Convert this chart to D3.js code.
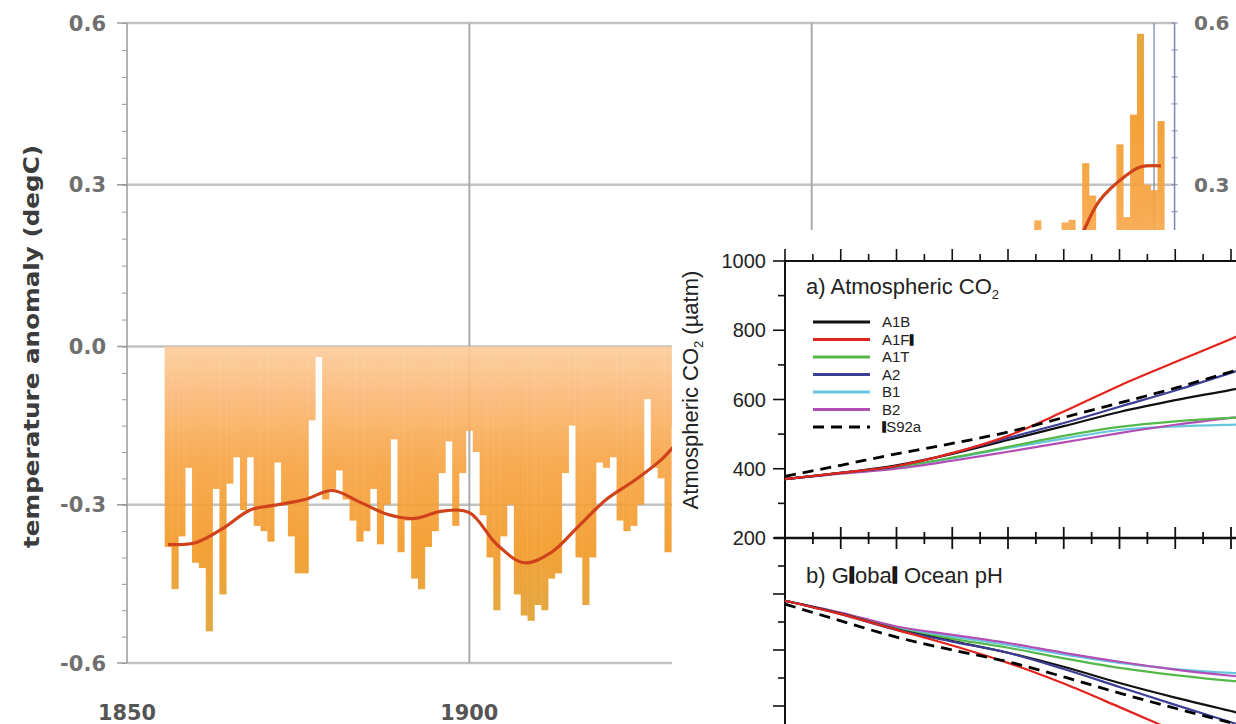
<!DOCTYPE html>
<html><head><meta charset="utf-8">
<script src="https://cdn.jsdelivr.net/npm/d3@7"></script>
<style>body{margin:0;background:#fff;} svg{display:block;}</style>
</head><body>
<svg id="chart" width="1236" height="724"></svg>
<script>
// ---------------- Temperature anomaly data (degC) ----------------
const years = d3.range(1856, 2002);
const anomalies = [
  -0.38,-0.46,-0.36,-0.23,-0.41,-0.42,-0.54,-0.27,-0.47,-0.26,
  -0.21,-0.31,-0.21,-0.34,-0.35,-0.37,-0.22,-0.30,-0.36,-0.43,
  -0.43,-0.14,-0.02,-0.29,-0.27,-0.235,-0.29,-0.33,-0.37,-0.35,
  -0.27,-0.375,-0.30,-0.176,-0.39,-0.33,-0.44,-0.46,-0.38,-0.35,
  -0.24,-0.18,-0.34,-0.24,-0.16,-0.20,-0.32,-0.40,-0.50,-0.36,
  -0.30,-0.47,-0.51,-0.52,-0.49,-0.50,-0.44,-0.43,-0.24,-0.15,
  -0.40,-0.49,-0.40,-0.22,-0.23,-0.21,-0.33,-0.35,-0.34,-0.30,
  -0.10,-0.23,-0.25,-0.39,-0.15,-0.07,-0.11,-0.27,-0.12,-0.18,
  -0.15,-0.02,0.02,-0.03,0.02,0.03,0.01,0.00,0.12,0.01,
  -0.08,-0.06,-0.06,-0.09,-0.18,-0.04,0.00,0.06,-0.16,-0.18,
  -0.27,0.02,0.06,0.03,-0.03,0.05,0.03,0.05,-0.21,-0.13,
  -0.06,-0.04,-0.07,0.06,-0.01,-0.08,-0.01,0.16,-0.08,-0.02,
  -0.11,0.15,0.07,0.14,0.14,0.20,0.05,0.234,0.03,0.03,
  0.11,0.23,0.235,0.15,0.34,0.28,0.12,0.15,0.20,0.375,
  0.24,0.43,0.58,0.30,0.29,0.418
];
const smoothYears = [1856,1860,1864,1868,1872,1876,1880,1884,1888,1892,1896,1900,1904,1908,1912,1916,1920,1924,1928,1932,1936,1940,1944,1948,1952,1956,1960,1964,1968,1972,1976,1980,1984,1988,1992,1996,1998,2001];
const smoothValues = [-0.375,-0.372,-0.345,-0.31,-0.30,-0.29,-0.273,-0.295,-0.318,-0.326,-0.312,-0.315,-0.375,-0.41,-0.39,-0.34,-0.29,-0.255,-0.215,-0.16,-0.12,-0.07,-0.05,-0.06,-0.07,-0.07,-0.06,-0.06,-0.05,-0.02,0.02,0.08,0.13,0.175,0.27,0.318,0.333,0.335];
const tempTicks = [-0.6,-0.3,0,0.3,0.6];
const tempTickLabels = ["-0.6","-0.3","0.0","0.3","0.6"];
const rightTicks = [0.3,0.6];
const rightTickLabels = ["0.3","0.6"];
const yearTicks = [1850,1900];
const yearTickLabels = ["1850","1900"];

// ---------------- Inset: scenarios ----------------
const scenarioYears = [2000,2010,2020,2030,2040,2050,2060,2070,2080,2090];
const scenarioNames = ["A1B","A1FI","A1T","A2","B1","B2","IS92a"];
const scenarioColors = ["#111111","#e3241d","#55b84a","#3b3f96","#66c6de","#b24db6","#000000"];
const co2A1B   = [370,388,410,443,483,523,564,598,628,660];
const co2A1FI  = [370,388,408,445,495,565,640,708,775,845];
const co2A1T   = [370,388,405,432,463,495,521,537,547,553];
const co2A2    = [370,388,407,445,489,532,579,626,677,730];
const co2B1    = [370,387,404,430,460,487,512,522,527,530];
const co2B2    = [370,386,400,423,449,476,503,527,547,565];
const co2IS92a = [378,410,443,473,506,548,590,633,680,725];
const phA1B    = [8.088,8.065,8.037,8.016,7.995,7.970,7.941,7.915,7.891,7.865];
const phA1FI   = [8.088,8.064,8.036,8.008,7.977,7.940,7.898,7.855,7.810,7.765];
const phA1T    = [8.088,8.065,8.038,8.020,8.004,7.985,7.968,7.955,7.945,7.940];
const phA2     = [8.088,8.064,8.036,8.015,7.995,7.966,7.934,7.902,7.871,7.840];
const phB1     = [8.088,8.066,8.040,8.024,8.009,7.992,7.977,7.966,7.959,7.955];
const phB2     = [8.088,8.067,8.042,8.027,8.0125,7.995,7.979,7.965,7.954,7.945];
const phIS92a  = [8.082,8.052,8.023,8.000,7.979,7.952,7.923,7.896,7.870,7.845];
const co2Ticks = [200,400,600,800,1000];
const co2TickLabels = ["200","400","600","800","1000"];

const co2Series = [co2A1B,co2A1FI,co2A1T,co2A2,co2B1,co2B2,co2IS92a];
const phSeries = [phA1B,phA1FI,phA1T,phA2,phB1,phB2,phIS92a];

// ---------------- Main chart ----------------
const svg = d3.select("#chart");
const defs = svg.append("defs");
const xs = d3.scaleLinear().domain([1850, 2003]).range([127, 127 + 153 * 6.847]);
const ys = d3.scaleLinear().domain([-0.6, 0, 0.6]).range([663, 346.5, 23]);

function grad(id, y1, y2) {
  const g = defs.append("linearGradient").attr("id", id)
    .attr("gradientUnits", "userSpaceOnUse")
    .attr("x1", 0).attr("x2", 0).attr("y1", y1).attr("y2", y2);
  [[0, "#fccc9c"], [0.15, "#fbbb7c"], [0.4, "#f7a444"], [0.7, "#f29a28"], [1, "#dda233"]]
    .forEach(([o, c]) => g.append("stop").attr("offset", o).attr("stop-color", c));
}
grad("gneg", ys(0), ys(-0.55));
grad("gpos", ys(0), ys(0.6));

const FONT = "'DejaVu Sans', sans-serif";
const xL = xs(1850), xR = xs(2003);

// grid
const grid = svg.append("g");
tempTicks.forEach(v => grid.append("line")
  .attr("x1", xL).attr("x2", xR).attr("y1", ys(v)).attr("y2", ys(v))
  .attr("stroke", "#c2c2c2").attr("stroke-width", 2.5));
[1900, 1950].forEach(yr => grid.append("line")
  .attr("x1", xs(yr)).attr("x2", xs(yr)).attr("y1", ys(0.6)).attr("y2", ys(-0.6))
  .attr("stroke", "#ababab").attr("stroke-width", 2));
grid.append("line").attr("x1", xs(2000)).attr("x2", xs(2000)).attr("y1", ys(0.6)).attr("y2", ys(-0.6))
  .attr("stroke", "#9097bb").attr("stroke-width", 1.5);

// bars
const bw = xs(1851) - xs(1850);
svg.append("g").selectAll("rect").data(years).join("rect")
  .attr("x", d => xs(d) - bw / 2)
  .attr("width", bw + 0.3)
  .attr("y", (d, i) => Math.min(ys(anomalies[i]), ys(0)))
  .attr("height", (d, i) => Math.abs(ys(anomalies[i]) - ys(0)))
  .attr("fill", (d, i) => anomalies[i] < 0 ? "url(#gneg)" : "url(#gpos)")
  .attr("fill-opacity", 0.92);

// left axis
const minorT = d3.range(-12, 13).map(k => k * 0.05);
const gAx = svg.append("g").attr("transform", `translate(${xL},0)`);
gAx.call(d3.axisLeft(ys).tickValues(minorT).tickSize(5).tickFormat(""));
gAx.call(g => g.select(".domain").remove());
gAx.append("line").attr("y1", ys(0.6)).attr("y2", ys(-0.6)).attr("stroke", "#9a9a9a").attr("stroke-width", 1.5);
gAx.selectAll(".tick line").attr("stroke", "#9a9a9a");
tempTicks.forEach((v, i) => {
  gAx.append("line").attr("x1", -10).attr("x2", 0).attr("y1", ys(v)).attr("y2", ys(v)).attr("stroke", "#9a9a9a").attr("stroke-width", 1.5);
  svg.append("text").attr("x", 106).attr("y", ys(v)).attr("dy", "0.36em")
    .attr("text-anchor", "end").attr("font-family", FONT).attr("font-size", 21).attr("font-weight", "bold")
    .attr("fill", "#707070").text(tempTickLabels[i]);
});
rightTicks.forEach((v, i) => svg.append("text").attr("x", 1194).attr("y", ys(v)).attr("dy", "0.36em")
  .attr("text-anchor", "start").attr("font-family", FONT).attr("font-size", 20).attr("font-weight", "bold")
  .attr("fill", "#707070").text(rightTickLabels[i]));

// right axis
const gAxR = svg.append("g").attr("transform", `translate(${xR},0)`);
gAxR.append("line").attr("y1", ys(0.6)).attr("y2", ys(-0.6)).attr("stroke", "#7d86b4").attr("stroke-width", 1.5);
minorT.forEach(v => gAxR.append("line").attr("x1", -3).attr("x2", 3).attr("y1", ys(v)).attr("y2", ys(v)).attr("stroke", "#7d86b4"));

// year labels
yearTicks.forEach((yr, i) => svg.append("text")
  .attr("x", xs(yr)).attr("y", 720).attr("text-anchor", "middle")
  .attr("font-family", FONT).attr("font-size", 22).attr("font-weight", "bold").attr("fill", "#555")
  .attr("textLength", 58).attr("lengthAdjust", "spacingAndGlyphs")
  .text(yearTickLabels[i]));

// y title
svg.append("text").attr("transform", `translate(32,${ys(0)}) rotate(-90)`)
  .attr("text-anchor", "middle").attr("dy", "0.35em")
  .attr("font-family", FONT).attr("font-weight", "bold").attr("font-size", 21)
  .attr("fill", "#3c3c3c").attr("textLength", 403).attr("lengthAdjust", "spacingAndGlyphs")
  .text("temperature anomaly (degC)");

// smoothed line
svg.append("path").datum(smoothYears.map((y, i) => [y, smoothValues[i]]))
  .attr("fill", "none").attr("stroke", "#d0421a").attr("stroke-width", 3.2)
  .attr("d", d3.line().x(d => xs(d[0])).y(d => ys(d[1])).curve(d3.curveCatmullRom.alpha(0.5)));

// ---------------- Inset ----------------
defs.append("clipPath").attr("id", "insetClip").append("rect")
  .attr("x", 672).attr("y", 230).attr("width", 564).attr("height", 494);
const inset = svg.append("g").attr("clip-path", "url(#insetClip)");
inset.append("rect").attr("x", 672).attr("y", 230).attr("width", 564).attr("height", 494).attr("fill", "#fff");

const IF = "'Liberation Sans', Arial, sans-serif";
const ix = d3.scaleLinear().domain([2000, 2080]).range([785, 1231]);
const yc = d3.scaleLinear().domain([200, 1000]).range([538, 261]);
const yp = d3.scaleLinear().domain([7.6, 8.2]).range([538 + 0.6 * 560, 538]);

// axes lines
const AX = "#111";
inset.append("line").attr("x1", 785).attr("x2", 785).attr("y1", 261).attr("y2", 724).attr("stroke", AX).attr("stroke-width", 2);
inset.append("line").attr("x1", 785).attr("x2", 1236).attr("y1", yc(1000)).attr("y2", yc(1000)).attr("stroke", AX).attr("stroke-width", 2);
inset.append("line").attr("x1", 774).attr("x2", 1236).attr("y1", yc(200)).attr("y2", yc(200)).attr("stroke", AX).attr("stroke-width", 2.5);

const yrTicks = d3.range(2000, 2101, 5);
yrTicks.forEach(t => {
  const major = t % 10 === 0;
  const x = ix(t);
  inset.append("line").attr("x1", x).attr("x2", x).attr("y1", yc(1000)).attr("y2", yc(1000) - (major ? 12 : 7)).attr("stroke", AX).attr("stroke-width", 1.6);
  inset.append("line").attr("x1", x).attr("x2", x).attr("y1", yc(200) - (major ? 11 : 6)).attr("y2", yc(200) + (major ? 11 : 6)).attr("stroke", AX).attr("stroke-width", 1.8);
});
d3.range(200, 1001, 100).forEach(v => {
  const major = v % 200 === 0;
  inset.append("line").attr("x1", 785 - (major ? 12 : 7)).attr("x2", 785).attr("y1", yc(v)).attr("y2", yc(v)).attr("stroke", AX).attr("stroke-width", 1.6);
});
co2Ticks.forEach((v, i) => inset.append("text").attr("x", 766).attr("y", yc(v)).attr("dy", "0.36em")
  .attr("text-anchor", "end").attr("font-family", IF).attr("font-size", 20).attr("fill", "#222").text(co2TickLabels[i]));
[8.15, 8.10, 8.05, 8.00, 7.95, 7.90, 7.85].forEach((v, i) => {
  const major = i % 2 === 1;
  inset.append("line").attr("x1", 785 - (major ? 12 : 7)).attr("x2", 785).attr("y1", yp(v)).attr("y2", yp(v)).attr("stroke", AX).attr("stroke-width", 1.6);
});

// y label
const yl = inset.append("text").attr("transform", "translate(698,390) rotate(-90)")
  .attr("text-anchor", "middle").attr("font-family", IF).attr("font-size", 22).attr("fill", "#222");
yl.append("tspan").text("Atmospheric CO");
yl.append("tspan").attr("font-size", 13).attr("dy", 5).text("2");
yl.append("tspan").attr("dy", -5).text(" (µatm)");

// titles
function rich(sel, str) {
  str.split(/([Il])/).forEach(p => {
    if (!p) return;
    const t = sel.append("tspan").text(p);
    if (p === "I" || p === "l") t.attr("font-weight", "bold").attr("stroke", "#111").attr("stroke-width", 1.6);
  });
}
const ta = inset.append("text").attr("x", 806).attr("y", 294).attr("font-family", IF).attr("font-size", 22).attr("fill", "#222");
ta.append("tspan").text("a) Atmospheric CO");
ta.append("tspan").attr("font-size", 13).attr("dy", 5).text("2");
const tb = inset.append("text").attr("x", 806).attr("y", 583).attr("font-family", IF).attr("font-size", 22).attr("fill", "#222");
rich(tb, "b) Global Ocean pH");

// legend
scenarioNames.forEach((n, i) => {
  const y = 322 + i * 17.5;
  inset.append("line").attr("x1", 813).attr("x2", 870).attr("y1", y).attr("y2", y)
    .attr("stroke", scenarioColors[i]).attr("stroke-width", 3)
    .attr("stroke-dasharray", n === "IS92a" ? "11,7" : null);
  const t = inset.append("text").attr("x", 882).attr("y", y).attr("dy", "0.36em")
    .attr("font-family", IF).attr("font-size", 15).attr("fill", "#222");
  rich(t, n);
});

// curves
const lineC = d3.line().x((d, i) => ix(scenarioYears[i])).y(d => yc(d)).curve(d3.curveMonotoneX);
const lineP = d3.line().x((d, i) => ix(scenarioYears[i])).y(d => yp(d)).curve(d3.curveMonotoneX);
const order = [4, 5, 2, 0, 3, 1, 6];
order.forEach(k => {
  inset.append("path").attr("d", lineC(co2Series[k])).attr("fill", "none")
    .attr("stroke", scenarioColors[k]).attr("stroke-width", k === 6 ? 2.8 : 2.2)
    .attr("stroke-dasharray", k === 6 ? "11,7" : null);
  inset.append("path").attr("d", lineP(phSeries[k])).attr("fill", "none")
    .attr("stroke", scenarioColors[k]).attr("stroke-width", k === 6 ? 2.8 : 2.2)
    .attr("stroke-dasharray", k === 6 ? "11,7" : null);
});
</script>
</body></html>
